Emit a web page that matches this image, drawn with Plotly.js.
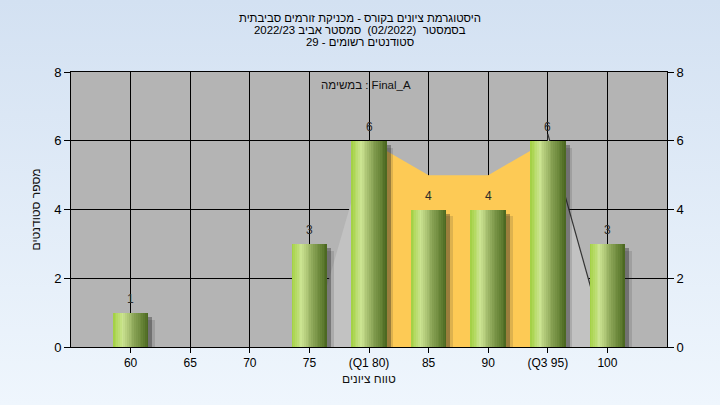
<!DOCTYPE html>
<html>
<head>
<meta charset="utf-8">
<script src="https://cdn.plot.ly/plotly-3.0.1.min.js"></script>
<style>
html,body{margin:0;padding:0;width:720px;height:405px;overflow:hidden;
background:linear-gradient(#d3e1f2,#eff6fd);}
#chart{width:720px;height:405px;}
</style>
</head>
<body>
<div id="chart"></div>
<script>
// ---- data ----
const categories = ["60","65","70","75","(Q1 80)","85","90","(Q3 95)","100"];
const counts     = [1, 0, 0, 3, 6, 4, 4, 6, 3];
const iqrX = ["(Q1 80)","85","90","(Q3 95)"];
const iqrY = [6, 5, 5, 6];
const lowTailX = ["75","(Q1 80)"];
const lowTailY = [0, 6];
const highTailX = ["(Q3 95)","100"];
const highTailY = [6.2, 0];
const titleLines = [
  "היסטוגרמת ציונים בקורס - מכניקת זורמים סביבתית",
  "בסמסטר  (02/2022)  סמסטר אביב 2022/23",
  "סטודנטים רשומים - 29"
];
const taskLabel = "במשימה : Final_A";
const xTitle = "טווח ציונים";
const yTitle = "מספר סטודנטים";

// ---- styling ----
const FONT = "Liberation Sans, Arial, sans-serif";
const gradStops = [
  [0.00,[160,206,64]],
  [0.12,[180,218,98]],
  [0.28,[204,228,146]],
  [0.42,[176,200,120]],
  [0.62,[134,160,82]],
  [0.85,[98,127,51]],
  [1.00,[72,100,30]]
];
function gradColor(t){
  for(let i=1;i<gradStops.length;i++){
    if(t<=gradStops[i][0]){
      const a=gradStops[i-1], b=gradStops[i];
      const f=(t-a[0])/(b[0]-a[0]);
      const c=a[1].map((v,k)=>Math.round(v+(b[1][k]-v)*f));
      return `rgb(${c[0]},${c[1]},${c[2]})`;
    }
  }
  const c=gradStops[gradStops.length-1][1];
  return `rgb(${c[0]},${c[1]},${c[2]})`;
}
const BW = 0.6;
const traces = [];

// areas on main subplot (under bars)
traces.push({type:'scatter', x:lowTailX, y:lowTailY, mode:'lines', fill:'tozeroy',
  fillcolor:'#c2c2c2', line:{width:0, color:'#c2c2c2'}, hoverinfo:'skip', xaxis:'x', yaxis:'y'});
traces.push({type:'scatter', x:highTailX, y:highTailY, mode:'lines', fill:'tozeroy',
  fillcolor:'#c2c2c2', line:{width:1.2, color:'#333333'}, hoverinfo:'skip', xaxis:'x', yaxis:'y'});
traces.push({type:'scatter', x:iqrX, y:iqrY, mode:'lines', fill:'tozeroy',
  fillcolor:'#fdca55', line:{width:0, color:'#fdca55'}, hoverinfo:'skip', xaxis:'x', yaxis:'y'});

// shadows
traces.push({type:'bar', x:categories, y:counts, base:-0.2, width:BW, offset:-BW/2+0.11,
  marker:{color:'rgba(40,40,40,0.15)', line:{width:0}}, hoverinfo:'skip', cliponaxis:false, xaxis:'x', yaxis:'y2'});
traces.push({type:'bar', x:categories, y:counts, base:-0.13, width:BW, offset:-BW/2+0.065,
  marker:{color:'rgba(30,30,30,0.35)', line:{width:0}}, hoverinfo:'skip', cliponaxis:false, xaxis:'x', yaxis:'y2'});

// cylinder-like bars made of stripes
const N = 20;
for(let i=0;i<N;i++){
  const w = BW/N;
  traces.push({type:'bar', x:categories, y:counts, width:(i<N-1? w*1.6 : w), offset:-BW/2+i*w,
    marker:{color:gradColor((i+0.5)/N), line:{width:0}}, hoverinfo:'skip', xaxis:'x', yaxis:'y2'});
}

const annotations = [];
titleLines.forEach((t,i)=>{
  annotations.push({text:t, xref:'paper', yref:'paper', x:0.485, y:(347-(18+12*i))/275,
    xanchor:'center', yanchor:'middle', showarrow:false, font:{family:FONT,size:11.4,color:'#000'}});
});
annotations.push({text:taskLabel, xref:'paper', yref:'paper', x:0.495, y:(347-85)/275,
  xanchor:'center', yanchor:'middle', showarrow:false, font:{family:FONT,size:11.5,color:'#111'}});
annotations.push({text:xTitle, xref:'paper', yref:'paper', x:0.5, y:(347-379)/275,
  xanchor:'center', yanchor:'middle', showarrow:false, font:{family:FONT,size:12,color:'#111'}});
annotations.push({text:yTitle, xref:'paper', yref:'paper', x:(35-71)/596, y:0.5, textangle:-90,
  xanchor:'center', yanchor:'middle', showarrow:false, font:{family:FONT,size:12,color:'#111'}});
categories.forEach((c,i)=>{
  if(counts[i]>0){
    annotations.push({text:String(counts[i]), x:i, y:counts[i], xref:'x', yref:'y2',
      yshift:14, showarrow:false, xanchor:'center', yanchor:'middle',
      font:{family:FONT,size:12,color:'#2a2a2a'}});
  }
});

const layout = {
  width:720, height:405,
  margin:{l:71, r:53, t:72, b:58, pad:0},
  paper_bgcolor:'rgba(0,0,0,0)', plot_bgcolor:'#b4b4b4',
  showlegend:false, barmode:'overlay', bargap:0,
  font:{family:FONT, size:12, color:'#000'},
  xaxis:{type:'category', categoryorder:'array', categoryarray:categories, range:[-1,9],
    showgrid:true, gridcolor:'#000', gridwidth:1, showline:true, linecolor:'#000', linewidth:1,
    mirror:true, ticks:'outside', ticklen:5, tickcolor:'#000', tickfont:{family:FONT,size:12,color:'#000'},
    zeroline:false, fixedrange:true},
  yaxis:{range:[0,8], dtick:2, showgrid:true, gridcolor:'#000', gridwidth:1, showline:true,
    linecolor:'#000', linewidth:1, mirror:true, ticks:'outside', ticklen:6, tickcolor:'#000',
    tickfont:{family:FONT,size:13,color:'#000'}, zeroline:false, fixedrange:true},
  yaxis2:{range:[0,8], dtick:2, overlaying:'y', side:'right', showgrid:false, showline:false,
    ticks:'outside', ticklen:6, tickcolor:'#000', tickfont:{family:FONT,size:13,color:'#000'},
    zeroline:false, fixedrange:true},
  annotations:annotations
};
Plotly.newPlot('chart', traces, layout, {displayModeBar:false, staticPlot:true});
</script>
</body>
</html>
